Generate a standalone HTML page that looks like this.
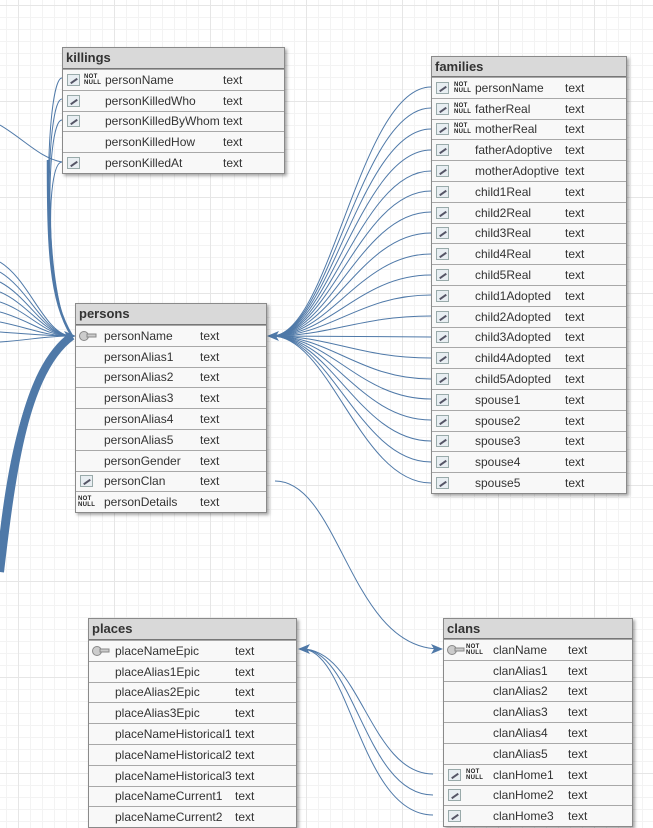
<!DOCTYPE html>
<html><head><meta charset="utf-8"><style>
html,body{margin:0;padding:0;}
body{width:653px;height:819px;overflow:hidden;position:relative;font-family:"Liberation Sans",sans-serif;
background-color:#fff;
background-image:linear-gradient(to right,#e6e6e6 1px,transparent 1px),linear-gradient(to bottom,#e6e6e6 1px,transparent 1px),linear-gradient(to right,#f3f3f3 1px,transparent 1px),linear-gradient(to bottom,#f3f3f3 1px,transparent 1px);
background-size:96px 96px,96px 96px,12px 12px,12px 12px;background-position:18px 5px;}
.t{position:absolute;background:#f7f7f7;border:1px solid #8a8a8a;box-shadow:2px 2px 3px rgba(0,0,0,.35);font-size:12px;color:#333;}
.h{background:#d9d9d9;border-bottom:1px solid #777;font-weight:bold;font-size:13px;padding-left:3px;box-sizing:border-box;color:#333;}
.r{position:relative;border-top:1px solid #a8a8a8;box-sizing:border-box;background:#f8f8f8;}
.r:first-of-type{border-top:none}
.n{position:absolute;left:var(--n);top:50%;transform:translateY(-50%);white-space:nowrap}
.y{position:absolute;left:var(--t);top:50%;transform:translateY(-50%)}
.fk{position:absolute;left:4px;top:50%;transform:translateY(-50%);width:13px;height:12px;border:1px solid #9aa;background:#e8eef2;box-sizing:border-box}
.fk:after{content:"";position:absolute;left:2px;top:5px;width:8px;height:2px;background:#556;transform:rotate(-35deg)}
.nn{position:absolute;left:var(--nn);top:50%;transform:translateY(-50%);font-size:6px;line-height:6px;font-weight:bold;color:#222;letter-spacing:.3px}
.k{position:absolute;left:3px;top:50%;transform:translateY(-50%)}
svg.c{position:absolute;left:0;top:0}
</style></head><body>
<svg class="c" width="653" height="819">
<g fill="none" stroke="#4f79a8" stroke-width="1">
<path d="M62,78 C45,78 40,300 72,336"/>
<path d="M62,99 C45,99 42,300 72,336"/>
<path d="M62,120 C45,120 44,300 72,336"/>
<path d="M62,162 C45,162 46,300 72,336"/>
<path d="M0,125 C25,140 40,158 62,162"/>
<path d="M48,160 C48,250 50,300 72,336" stroke-width="2.5"/>
<path d="M0,262 C30,280 45,336 72,336"/>
<path d="M0,272 C30,290 45,336 72,336"/>
<path d="M0,282 C30,298 45,336 72,336"/>
<path d="M0,292 C30,305 45,336 72,336"/>
<path d="M0,302 C30,312 45,336 72,336"/>
<path d="M0,312 C30,320 45,336 72,336"/>
<path d="M0,322 C30,328 45,336 72,336"/>
<path d="M0,332 C30,334 45,336 72,336"/>
<path d="M0,342 C30,340 45,336 72,336"/>
<path d="M0,572 C12,470 25,370 72,336" stroke-width="8"/>
<path d="M0,540 C10,450 30,360 72,336" stroke-width="2"/>
<path d="M431,87 C360,87 330,336 272,336"/>
<path d="M431,108 C360,108 330,336 272,336"/>
<path d="M431,129 C360,129 330,336 272,336"/>
<path d="M431,150 C360,150 330,336 272,336"/>
<path d="M431,171 C360,171 330,336 272,336"/>
<path d="M431,191 C360,191 330,336 272,336"/>
<path d="M431,212 C360,212 330,336 272,336"/>
<path d="M431,233 C360,233 330,336 272,336"/>
<path d="M431,254 C360,254 330,336 272,336"/>
<path d="M431,275 C360,275 330,336 272,336"/>
<path d="M431,295 C360,295 330,336 272,336"/>
<path d="M431,316 C360,316 330,336 272,336"/>
<path d="M431,337 C360,337 330,336 272,336"/>
<path d="M431,358 C360,358 330,336 272,336"/>
<path d="M431,379 C360,379 330,336 272,336"/>
<path d="M431,399 C360,399 330,336 272,336"/>
<path d="M431,420 C360,420 330,336 272,336"/>
<path d="M431,441 C360,441 330,336 272,336"/>
<path d="M431,462 C360,462 330,336 272,336"/>
<path d="M431,483 C360,483 330,336 272,336"/>
<path d="M275,481 C340,481 350,649 440,649"/>
<path d="M433,774 C370,774 360,649 302,649"/>
<path d="M433,795 C365,795 355,649 302,649"/>
<path d="M433,815 C360,815 350,649 302,649"/>
</g>
<g fill="#4f79a8">
<polygon points="76,336 64,331 67,336 64,341"/>
<polygon points="267,336 279,331 276,336 279,341"/>
<polygon points="443,649 431,644 434,649 431,654"/>
<polygon points="298,649 310,644 307,649 310,654"/>
</g>
</svg>

<div class="t" style="left:62px;top:47px;width:221px;--n:42px;--t:160px;--nn:21px">
<div class="h" style="height:21px;line-height:20px">killings</div>
<div class="r" style="height:20.8px"><span class="fk"></span><span class="nn">NOT<br>NULL</span><span class="n">personName</span><span class="y">text</span></div>
<div class="r" style="height:20.8px"><span class="fk"></span><span class="n">personKilledWho</span><span class="y">text</span></div>
<div class="r" style="height:20.8px"><span class="fk"></span><span class="n">personKilledByWhom</span><span class="y">text</span></div>
<div class="r" style="height:20.8px"><span class="n">personKilledHow</span><span class="y">text</span></div>
<div class="r" style="height:20.8px"><span class="fk"></span><span class="n">personKilledAt</span><span class="y">text</span></div>
</div>

<div class="t" style="left:431px;top:56px;width:194px;--n:43px;--t:133px;--nn:22px">
<div class="h" style="height:20px;line-height:19px">families</div>
<div class="r" style="height:20.8px"><span class="fk"></span><span class="nn">NOT<br>NULL</span><span class="n">personName</span><span class="y">text</span></div>
<div class="r" style="height:20.8px"><span class="fk"></span><span class="nn">NOT<br>NULL</span><span class="n">fatherReal</span><span class="y">text</span></div>
<div class="r" style="height:20.8px"><span class="fk"></span><span class="nn">NOT<br>NULL</span><span class="n">motherReal</span><span class="y">text</span></div>
<div class="r" style="height:20.8px"><span class="fk"></span><span class="n">fatherAdoptive</span><span class="y">text</span></div>
<div class="r" style="height:20.8px"><span class="fk"></span><span class="n">motherAdoptive</span><span class="y">text</span></div>
<div class="r" style="height:20.8px"><span class="fk"></span><span class="n">child1Real</span><span class="y">text</span></div>
<div class="r" style="height:20.8px"><span class="fk"></span><span class="n">child2Real</span><span class="y">text</span></div>
<div class="r" style="height:20.8px"><span class="fk"></span><span class="n">child3Real</span><span class="y">text</span></div>
<div class="r" style="height:20.8px"><span class="fk"></span><span class="n">child4Real</span><span class="y">text</span></div>
<div class="r" style="height:20.8px"><span class="fk"></span><span class="n">child5Real</span><span class="y">text</span></div>
<div class="r" style="height:20.8px"><span class="fk"></span><span class="n">child1Adopted</span><span class="y">text</span></div>
<div class="r" style="height:20.8px"><span class="fk"></span><span class="n">child2Adopted</span><span class="y">text</span></div>
<div class="r" style="height:20.8px"><span class="fk"></span><span class="n">child3Adopted</span><span class="y">text</span></div>
<div class="r" style="height:20.8px"><span class="fk"></span><span class="n">child4Adopted</span><span class="y">text</span></div>
<div class="r" style="height:20.8px"><span class="fk"></span><span class="n">child5Adopted</span><span class="y">text</span></div>
<div class="r" style="height:20.8px"><span class="fk"></span><span class="n">spouse1</span><span class="y">text</span></div>
<div class="r" style="height:20.8px"><span class="fk"></span><span class="n">spouse2</span><span class="y">text</span></div>
<div class="r" style="height:20.8px"><span class="fk"></span><span class="n">spouse3</span><span class="y">text</span></div>
<div class="r" style="height:20.8px"><span class="fk"></span><span class="n">spouse4</span><span class="y">text</span></div>
<div class="r" style="height:20.8px"><span class="fk"></span><span class="n">spouse5</span><span class="y">text</span></div>
</div>

<div class="t" style="left:75px;top:303px;width:190px;--n:28px;--t:124px;--nn:2px">
<div class="h" style="height:21px;line-height:20px">persons</div>
<div class="r" style="height:20.8px"><svg class="k" width="18" height="14"><circle cx="5" cy="7" r="4.5" fill="#ccc" stroke="#888"/><rect x="8" y="5" width="9" height="3" fill="#ccc" stroke="#888"/></svg><span class="n">personName</span><span class="y">text</span></div>
<div class="r" style="height:20.8px"><span class="n">personAlias1</span><span class="y">text</span></div>
<div class="r" style="height:20.8px"><span class="n">personAlias2</span><span class="y">text</span></div>
<div class="r" style="height:20.8px"><span class="n">personAlias3</span><span class="y">text</span></div>
<div class="r" style="height:20.8px"><span class="n">personAlias4</span><span class="y">text</span></div>
<div class="r" style="height:20.8px"><span class="n">personAlias5</span><span class="y">text</span></div>
<div class="r" style="height:20.8px"><span class="n">personGender</span><span class="y">text</span></div>
<div class="r" style="height:20.8px"><span class="fk"></span><span class="n">personClan</span><span class="y">text</span></div>
<div class="r" style="height:20.8px"><span class="nn">NOT<br>NULL</span><span class="n">personDetails</span><span class="y">text</span></div>
</div>

<div class="t" style="left:88px;top:618px;width:207px;--n:26px;--t:146px">
<div class="h" style="height:21px;line-height:20px">places</div>
<div class="r" style="height:20.8px"><svg class="k" width="18" height="14"><circle cx="5" cy="7" r="4.5" fill="#ccc" stroke="#888"/><rect x="8" y="5" width="9" height="3" fill="#ccc" stroke="#888"/></svg><span class="n">placeNameEpic</span><span class="y">text</span></div>
<div class="r" style="height:20.8px"><span class="n">placeAlias1Epic</span><span class="y">text</span></div>
<div class="r" style="height:20.8px"><span class="n">placeAlias2Epic</span><span class="y">text</span></div>
<div class="r" style="height:20.8px"><span class="n">placeAlias3Epic</span><span class="y">text</span></div>
<div class="r" style="height:20.8px"><span class="n">placeNameHistorical1</span><span class="y">text</span></div>
<div class="r" style="height:20.8px"><span class="n">placeNameHistorical2</span><span class="y">text</span></div>
<div class="r" style="height:20.8px"><span class="n">placeNameHistorical3</span><span class="y">text</span></div>
<div class="r" style="height:20.8px"><span class="n">placeNameCurrent1</span><span class="y">text</span></div>
<div class="r" style="height:20.8px"><span class="n">placeNameCurrent2</span><span class="y">text</span></div>
</div>

<div class="t" style="left:443px;top:618px;width:188px;--n:49px;--t:124px;--nn:22px">
<div class="h" style="height:20px;line-height:19px">clans</div>
<div class="r" style="height:20.8px"><svg class="k" width="18" height="14"><circle cx="5" cy="7" r="4.5" fill="#ccc" stroke="#888"/><rect x="8" y="5" width="9" height="3" fill="#ccc" stroke="#888"/></svg><span class="nn">NOT<br>NULL</span><span class="n">clanName</span><span class="y">text</span></div>
<div class="r" style="height:20.8px"><span class="n">clanAlias1</span><span class="y">text</span></div>
<div class="r" style="height:20.8px"><span class="n">clanAlias2</span><span class="y">text</span></div>
<div class="r" style="height:20.8px"><span class="n">clanAlias3</span><span class="y">text</span></div>
<div class="r" style="height:20.8px"><span class="n">clanAlias4</span><span class="y">text</span></div>
<div class="r" style="height:20.8px"><span class="n">clanAlias5</span><span class="y">text</span></div>
<div class="r" style="height:20.8px"><span class="fk"></span><span class="nn">NOT<br>NULL</span><span class="n">clanHome1</span><span class="y">text</span></div>
<div class="r" style="height:20.8px"><span class="fk"></span><span class="n">clanHome2</span><span class="y">text</span></div>
<div class="r" style="height:20.8px"><span class="fk"></span><span class="n">clanHome3</span><span class="y">text</span></div>
</div>
</body></html>
